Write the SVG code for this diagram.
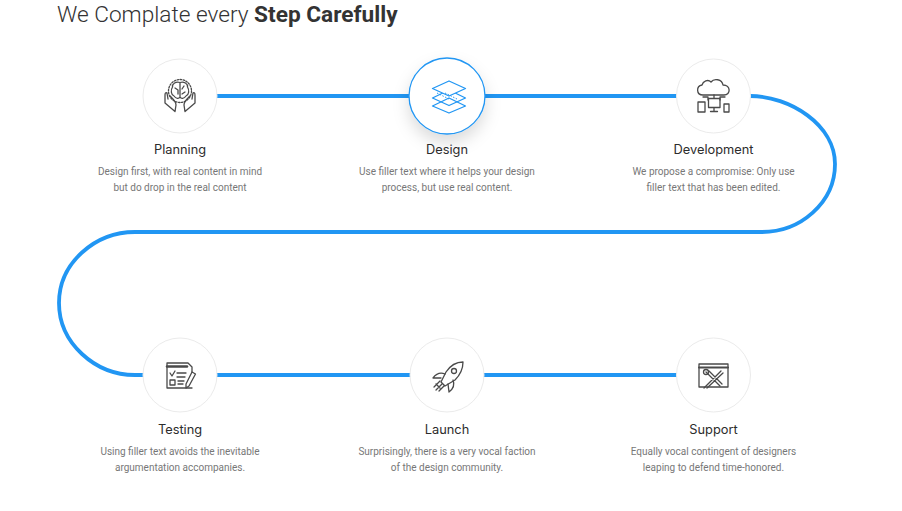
<svg xmlns="http://www.w3.org/2000/svg" width="902" height="511" viewBox="0 0 902 511">
<style>
text{font-family:"Roboto","Liberation Sans",sans-serif}
.h{font-size:22.650px;fill:#333;font-weight:300}
.t{font-family:"Inter","Noto Sans",sans-serif;font-size:12.800px;font-weight:400;fill:#2c2c2c;text-anchor:middle}
.d{font-size:10px;fill:#777;text-anchor:middle}
.c{fill:#fff;stroke:#ebebeb;stroke-width:1}
.i{fill:none;stroke:#4a4a4a;stroke-width:1.300;stroke-linejoin:round;stroke-linecap:round}
.b{fill:none;stroke:#2196f3;stroke-width:1.300;stroke-linejoin:round}
</style>
<defs>
<filter id="s" x="-50%" y="-50%" width="200%" height="200%"><feDropShadow dx="0" dy="8" stdDeviation="8" flood-color="#000" flood-opacity=".14"/></filter>
</defs>
<rect width="902" height="511" fill="#fff"/>
<text class="h" x="57" y="22">We Complate every <tspan font-weight="700">Step Carefully</tspan></text>
<g id="connectors">
<path d="M180 96H750C790 96 835 125 835 164C835 203 800 232 762 232H135C95 232 59 263 59 303C59 343 95 375 135 375H713" fill="none" stroke="#2196f3" stroke-width="3.800"/>
</g>
<g id="planning">
<circle class="c" cx="180" cy="96" r="37"/>
<g class="i">
<circle cx="180" cy="91" r="11.500" stroke-dasharray="1.500 1.500"/>
<path d="M180 82.500C176 81 172 84 172.500 87C170.500 90 171 95 174 96C176 99 179 99 180 97V82.500C184 81 188 84 187.500 87C189.500 90 189 95 186 96C184 99 181 99 180 97M175 88L178 90V94M184 86L182 89M185 92L182 94"/>
<path d="M167 93C165 92 165 94 165 96V103L175 111.500L176 105C176 101 173 99 170 96M167 93L168 99"/>
<path d="M193 93C195 92 195 94 195 96V103L185 111.500L184 105C184 101 187 99 190 96M193 93L192 99"/>
</g>
<text class="t" x="180" y="153.500">Planning</text>
<text class="d" x="180" y="175">Design first, with real content in mind</text>
<text class="d" x="180" y="191">but do drop in the real content</text>
</g>
<g id="design">
<circle cx="447" cy="96" r="38" fill="#fff" stroke="#2196f3" stroke-width="1.300" filter="url(#s)"/>
<g class="b">
<path d="M449 98L432.500 106L449 113L465.500 106Z"/>
<path d="M449 90L432.500 98L449 105.500L465.500 98Z"/>
<path d="M449 81L432.500 88.500L449 96L465.500 88.500Z" fill="#fff"/>
<path d="M437 93L449 99M445 93L457 99" stroke-dasharray="1.500 1.500" stroke-width="1"/>
</g>
<text class="t" x="447" y="153.500">Design</text>
<text class="d" x="447" y="175">Use filler text where it helps your design</text>
<text class="d" x="447" y="191">process, but use real content.</text>
</g>
<g id="development">
<circle class="c" cx="713.500" cy="96" r="37"/>
<g class="i">
<path d="M703 95C696 95 696 86 702 85C703 81 708 79 711 82C714 78 722 79 723 85C731 85 731 95 724 95Z"/>
<path d="M714 95V98M703 97H708V100M725 97H720V100"/>
<rect x="698" y="102" width="7" height="10"/>
<rect x="708.500" y="98.500" width="11.500" height="9"/>
<path d="M714 108V111M710.500 111.500H717.500"/>
<rect x="724" y="104" width="5" height="8"/>
</g>
<text class="t" x="713.500" y="153.500">Development</text>
<text class="d" x="713.500" y="175">We propose a compromise: Only use</text>
<text class="d" x="713.500" y="191">filler text that has been edited.</text>
</g>
<g id="testing">
<circle class="c" cx="180" cy="375" r="37"/>
<g class="i">
<path d="M192 388H167V363H188L192 367V372"/>
<path d="M167 366.500H187" stroke-width="2.500"/>
<path d="M170 373L172 376L175 371M177 373H186M177 377H185"/>
<rect x="170" y="380" width="5" height="5"/>
<path d="M178 381H184M178 384H183"/>
<path d="M192 372L195.500 374L189 386L186 388L186 384Z"/>
</g>
<text class="t" x="180" y="433.500">Testing</text>
<text class="d" x="180" y="455">Using filler text avoids the inevitable</text>
<text class="d" x="180" y="471">argumentation accompanies.</text>
</g>
<g id="launch">
<circle class="c" cx="447" cy="375" r="37"/>
<g class="i">
<path d="M463 362C456 362 450 366 446 372L441 382L445 386L455 380C460 375 463 369 463 362Z"/>
<circle cx="454" cy="371" r="2.500"/>
<path d="M445 374C440 372 436 374 433 378L441 378M453 380C455 385 453 389 449 392L448 384"/>
<path d="M440 381L434 387M442 384L436 390M444 386L439 391M436 384L440 388"/>
</g>
<text class="t" x="447" y="433.500">Launch</text>
<text class="d" x="447" y="455">Surprisingly, there is a very vocal faction</text>
<text class="d" x="447" y="471">of the design community.</text>
</g>
<g id="support">
<circle class="c" cx="713.500" cy="375" r="37"/>
<g class="i">
<rect x="699" y="364" width="29" height="23"/>
<path d="M699 367.500H728" stroke-width="2"/>
<path d="M706 372L720 386M709 371L722 384M721 371L704 388M723 373L707 388"/>
<circle cx="706" cy="372" r="2.500"/>
</g>
<text class="t" x="713.500" y="433.500">Support</text>
<text class="d" x="713.500" y="455">Equally vocal contingent of designers</text>
<text class="d" x="713.500" y="471">leaping to defend time-honored.</text>
</g>
</svg>
